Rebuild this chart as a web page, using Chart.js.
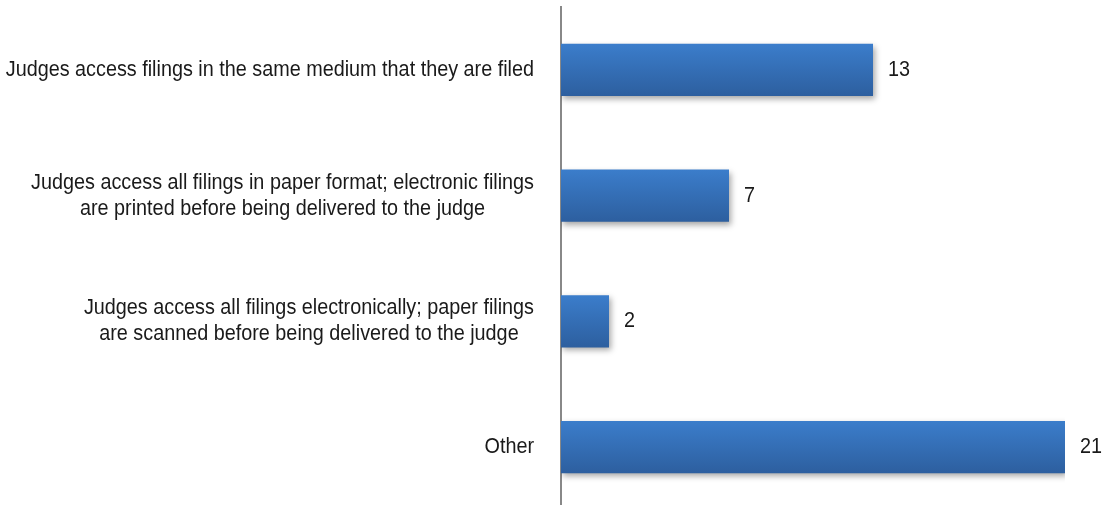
<!DOCTYPE html>
<html>
<head>
<meta charset="utf-8">
<script src="https://cdn.jsdelivr.net/npm/chart.js@4.4.1/dist/chart.umd.min.js"></script>
<style>
  html, body { margin: 0; padding: 0; background: #fff; overflow: hidden; }
  #wrap { width: 1104px; height: 510px; position: relative; }
</style>
</head>
<body>
<div id="wrap"><canvas id="chart"></canvas></div>
<script>
// Chart data
const categories = [
    ['Judges access filings in the same medium that they are filed'],
    ['Judges access all filings in paper format; electronic filings', 'are printed before being delivered to the judge'],
    ['Judges access all filings electronically; paper filings', 'are scanned before being delivered to the judge'],
    ['Other']
];
const counts = [13, 7, 2, 21];

const FONT = '"Liberation Sans", Arial, sans-serif';
const FONT_SIZE = 22;
const SQUEEZE = 0.9;          // narrow the glyphs horizontally
const TEXT_COLOR = '#1a1a1a';
const AXIS_LEFT = 561;
const BAR_FRACTION = 0.414;

/**
 * Vertical gradient for each bar, built from the y scale
 */
function barGradient(context) {
    const chart = context.chart;
    const y = chart.scales.y;
    if (!chart.chartArea || !y) return '#3570b8';
    const cy = y.getPixelForValue(context.dataIndex);
    const half = (y.height / categories.length) * BAR_FRACTION / 2;
    const g = chart.ctx.createLinearGradient(0, cy - half, 0, cy + half);
    g.addColorStop(0, '#3b7dcb');
    g.addColorStop(1, '#2d5f9f');
    return g;
}

/**
 * Drop shadow under the bars
 */
const barShadow = {
    id: 'barShadow',
    beforeDatasetsDraw(chart) {
        const ctx = chart.ctx;
        ctx.save();
        ctx.shadowColor = 'rgba(0,0,0,0.35)';
        ctx.shadowBlur = 6;
        ctx.shadowOffsetX = 2;
        ctx.shadowOffsetY = 3;
    },
    afterDatasetsDraw(chart) {
        chart.ctx.restore();
    }
};

/**
 * Category labels (right-aligned blocks, centred lines) and value labels
 */
const labelsPlugin = {
    id: 'labelsPlugin',
    afterDraw(chart) {
        const ctx = chart.ctx;
        const yScale = chart.scales.y;
        const lineH = 26;
        ctx.save();
        ctx.font = FONT_SIZE + 'px ' + FONT;
        ctx.fillStyle = TEXT_COLOR;
        ctx.textBaseline = 'middle';
        ctx.scale(SQUEEZE, 1);
        categories.forEach((lines, i) => {
            const cy = yScale.getPixelForValue(i);
            const blockW = Math.max(...lines.map(l => ctx.measureText(l).width)) * SQUEEZE;
            const right = AXIS_LEFT - 27;
            const cx = right - blockW / 2;
            ctx.textAlign = 'center';
            lines.forEach((l, k) => {
                ctx.fillText(l, cx / SQUEEZE, cy + (k - (lines.length - 1) / 2) * lineH);
            });
        });
        ctx.textAlign = 'left';
        chart.getDatasetMeta(0).data.forEach((bar, i) => {
            ctx.fillText(String(counts[i]), (bar.x + 15) / SQUEEZE, bar.y);
        });
        ctx.restore();
    }
};

new Chart(document.getElementById('chart'), {
    type: 'bar',
    data: {
        labels: categories,
        datasets: [{
            data: counts,
            backgroundColor: barGradient,
            borderWidth: 0,
            categoryPercentage: 1,
            barPercentage: BAR_FRACTION
        }]
    },
    options: {
        indexAxis: 'y',
        responsive: true,
        maintainAspectRatio: false,
        animation: false,
        layout: { padding: { top: 7, right: 39, bottom: 0, left: 0 } },
        plugins: {
            legend: { display: false },
            tooltip: { enabled: false }
        },
        scales: {
            x: {
                min: 0,
                max: 21,
                display: false
            },
            y: {
                grid: { display: false, drawTicks: false },
                border: { display: true, color: '#888888', width: 2 },
                ticks: { display: false },
                afterFit(scale) { scale.width = AXIS_LEFT; }
            }
        }
    },
    plugins: [barShadow, labelsPlugin]
});
</script>
</body>
</html>
